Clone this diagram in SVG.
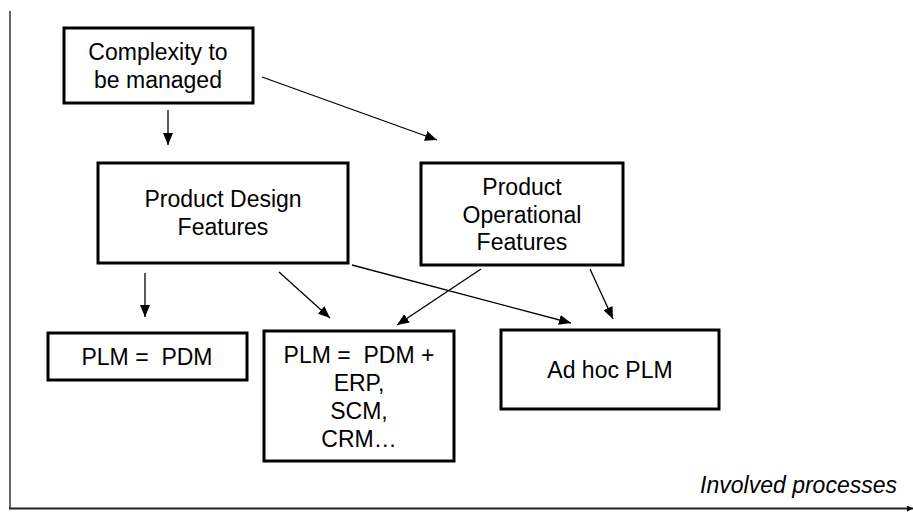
<svg xmlns="http://www.w3.org/2000/svg" width="913" height="512" viewBox="0 0 913 512">
<style>
.box{fill:#fff;stroke:#000;stroke-width:3}
.t{font-family:"Liberation Sans",Arial,sans-serif;font-size:23px;fill:#000;text-anchor:middle}
.it{font-family:"Liberation Sans",Arial,sans-serif;font-size:23px;font-style:italic;fill:#000;text-anchor:end}
.c{stroke:#000;stroke-width:1.3;fill:none;marker-end:url(#ah)}
</style>
<defs>
<marker id="ah" viewBox="0 0 12 10" refX="12" refY="5" markerWidth="12" markerHeight="10" markerUnits="userSpaceOnUse" orient="auto">
<path d="M0,0 L12,5 L0,10 z" fill="#000"/>
</marker>
<marker id="ax" viewBox="0 0 10 10" refX="10" refY="5" markerWidth="6" markerHeight="6" markerUnits="userSpaceOnUse" orient="auto">
<path d="M0,0 L10,5 L0,10 z" fill="#000"/>
</marker>
</defs>
<g id="axes">
<line x1="10" y1="11" x2="10" y2="509" stroke="#666" stroke-width="2"/>
<line x1="9" y1="508.5" x2="913" y2="508.5" stroke="#222" stroke-width="2" marker-end="url(#ax)"/>
<text class="it" x="897" y="493">Involved processes</text>
</g>
<g id="connectors">
<line class="c" x1="168" y1="110" x2="168" y2="145"/>
<line class="c" x1="262" y1="77" x2="437" y2="140"/>
<line class="c" x1="145" y1="273" x2="145" y2="317"/>
<line class="c" x1="279" y1="272" x2="330" y2="318"/>
<line class="c" x1="352" y1="265" x2="571" y2="323"/>
<line class="c" x1="481" y1="269" x2="397" y2="325"/>
<line class="c" x1="590" y1="269" x2="613" y2="319"/>
</g>
<g id="complexity">
<rect class="box" x="64" y="28" width="189" height="75"/>
<text class="t" x="158" y="60">Complexity to</text>
<text class="t" x="158" y="88">be managed</text>
</g>
<g id="design">
<rect class="box" x="98" y="163" width="250" height="100"/>
<text class="t" x="223" y="207">Product Design</text>
<text class="t" x="223" y="235">Features</text>
</g>
<g id="operational">
<rect class="box" x="421" y="163" width="202" height="102"/>
<text class="t" x="522" y="195">Product</text>
<text class="t" x="522" y="223">Operational</text>
<text class="t" x="522" y="250">Features</text>
</g>
<g id="plm-pdm">
<rect class="box" x="48" y="333" width="199" height="47"/>
<text class="t" x="147" y="365" xml:space="preserve">PLM =  PDM</text>
</g>
<g id="plm-pdm-plus">
<rect class="box" x="264" y="331" width="190" height="130"/>
<text class="t" x="359" y="363" xml:space="preserve">PLM =  PDM +</text>
<text class="t" x="359" y="391">ERP,</text>
<text class="t" x="359" y="419">SCM,</text>
<text class="t" x="359" y="447">CRM…</text>
</g>
<g id="adhoc">
<rect class="box" x="501" y="330" width="218" height="79"/>
<text class="t" x="610" y="378">Ad hoc PLM</text>
</g>
</svg>
